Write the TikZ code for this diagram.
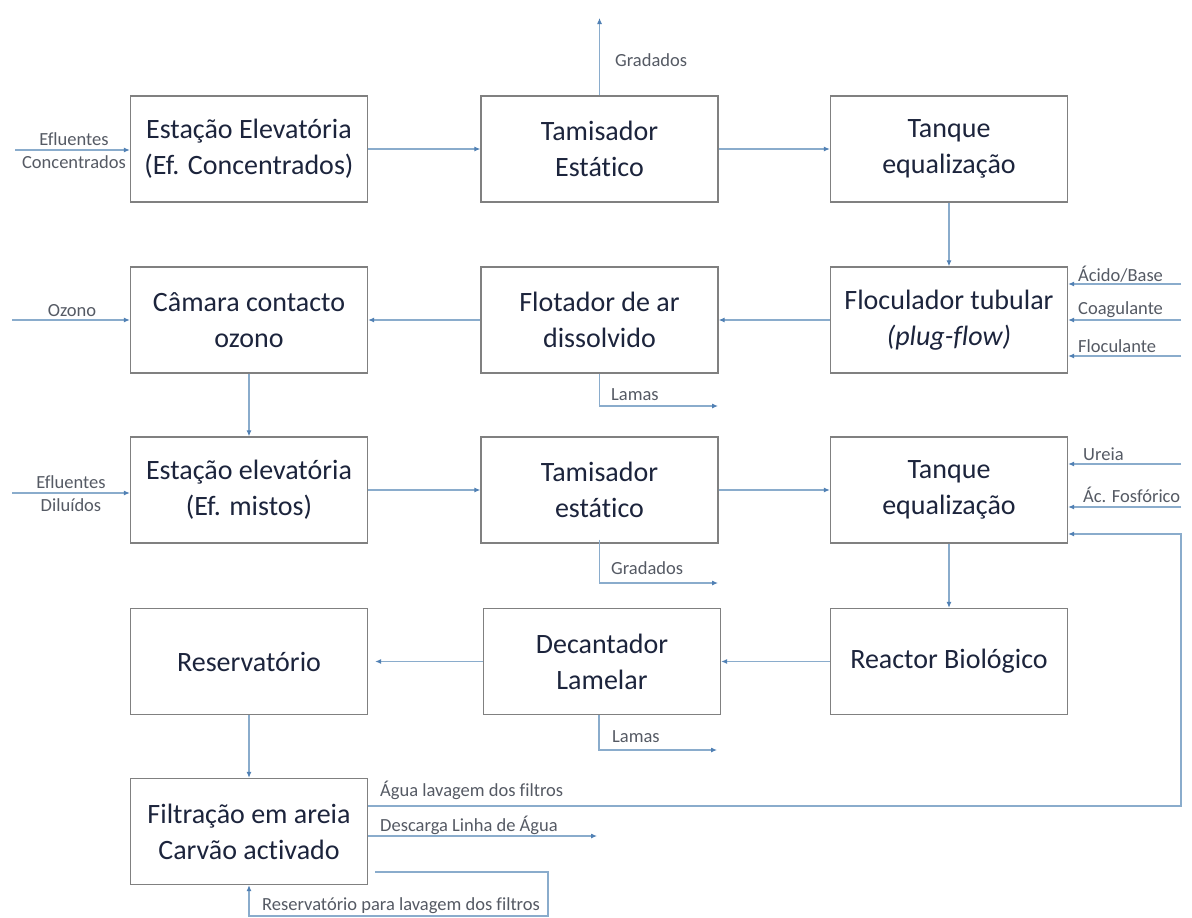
\documentclass[tikz,border=0pt]{standalone}
\usepackage{fontspec}
\setmainfont{Carlito}[RawFeature={-liga;-clig;-calt;-dlig}]
\usetikzlibrary{arrows.meta,calc}
\definecolor{linecol}{RGB}{138,172,204}
\definecolor{tipcol}{RGB}{80,128,180}
\definecolor{boxcol}{RGB}{128,128,128}
\definecolor{boxtxt}{RGB}{28,36,60}
\definecolor{labtxt}{RGB}{85,90,100}
\begin{document}
\begin{tikzpicture}[x=1pt,y=-1pt,
  box/.style={draw=boxcol,line width=1.3pt,minimum width=237pt,minimum height=106pt,
    align=center,text=boxtxt,font=\fontsize{28}{36}\selectfont,inner sep=0pt},
  arr/.style={draw=linecol,line width=1.1pt,-{Latex[length=6pt,width=5pt,color=tipcol]}},
  lab/.style={text=labtxt,font=\fontsize{18.5}{21}\selectfont,inner sep=0pt}]
\useasboundingbox (0,0) rectangle (1192,918);
\fill[white] (0,0) rectangle (1192,918);

% boxes
\node[box] (A) at (249,149) {Estação Elevatória\\(Ef. Concentrados)};
\node[box] (B) at (599.5,149) {Tamisador\\Estático};
\node[box] (C) at (949,149) {Tanque\\equalização};
\node[box] (D) at (249,320) {Câmara contacto\\ozono};
\node[box] (E) at (599.5,320) {Flotador de ar\\dissolvido};
\node[box] (F) at (949,320) {Floculador tubular\\\textit{(plug-flow)}};
\node[box] (G) at (249,490) {Estação elevatória\\(Ef. mistos)};
\node[box] (H) at (599.5,490) {Tamisador\\estático};
\node[box] (I) at (949,490) {Tanque\\equalização};
\node[box] (J) at (249,661.5) {Reservatório};
\node[box] (K) at (602,661.5) {Decantador\\Lamelar};
\node[box] (L) at (949,661.5) {Reactor Biológico};
\node[box] (M) at (249,831.5) {Filtração em areia\\Carvão activado};

% main flow
\draw[arr] (A.east) -- (B.west);
\draw[arr] (B.east) -- (C.west);
\draw[arr] (C.south) -- (F.north);
\draw[arr] (F.west) -- (E.east);
\draw[arr] (E.west) -- (D.east);
\draw[arr] (D.south) -- (G.north);
\draw[arr] (G.east) -- (H.west);
\draw[arr] (H.east) -- (I.west);
\draw[arr] (I.south) -- (L.north);
\draw[arr] (L.west) -- (K.east);
\draw[arr,shorten >=7pt] (K.west) -- (J.east);
\draw[arr] (J.south) -- (M.north);

% outputs / inputs
\coordinate (gradB) at (599.5,18);
\draw[arr] (B.north) -- (gradB);
\node[lab,anchor=west] (tgradB) at (615,60) {Gradados};

\coordinate (inA) at (15,150);
\draw[arr] (inA) -- (inA -| A.west);
\node[lab] (tefA) at (74,139) {Efluentes};
\node[lab] (tcoA) at (74,162) {Concentrados};

\coordinate (inD) at (12,320);
\draw[arr] (inD) -- (D.west);
\node[lab] (toz) at (72,311) {Ozono};

\coordinate (inG) at (12,493);
\draw[arr] (inG) -- (inG -| G.west);
\node[lab] (tefG) at (71,482) {Efluentes};
\node[lab] (tdiG) at (71,505) {Diluídos};

\coordinate (inF1) at (1181,284);
\coordinate (inF2) at (1181,320);
\coordinate (inF3) at (1181,356);
\draw[arr] (inF1) -- (inF1 -| F.east);
\draw[arr] (inF2) -- (inF2 -| F.east);
\draw[arr] (inF3) -- (inF3 -| F.east);
\node[lab,anchor=west] (tac) at (1078,274) {Ácido/Base};
\node[lab,anchor=west] (tcoag) at (1078,310) {Coagulante};
\node[lab,anchor=west] (tfloc) at (1078,346) {Floculante};

\coordinate (inI1) at (1181,464);
\coordinate (inI2) at (1181,507);
\draw[arr] (inI1) -- (inI1 -| I.east);
\draw[arr] (inI2) -- (inI2 -| I.east);
\node[lab,anchor=west] (tur) at (1083,454) {Ureia};
\node[lab,anchor=west] (tfos) at (1083,495) {Ác. Fosfórico};

\coordinate (lamE) at (718,406);
\draw[arr] (E.south) |- (lamE);
\node[lab,anchor=west] (tlamE) at (611,395) {Lamas};

\coordinate (gradH) at (718,583);
\draw[arr] ([yshift=4pt]H.south) |- (gradH);
\node[lab,anchor=west] (tgradH) at (611,568) {Gradados};

\coordinate (lamK) at (717,750);
\draw[arr] ([xshift=-3pt]K.south) |- (lamK);
\node[lab,anchor=west] (tlamK) at (612,737) {Lamas};

% filter outputs
\coordinate (fb1) at (1181,806);
\coordinate (fb2) at (1181,534);
\draw[arr] (M.east |- fb1) -- (fb1) -- (fb2) -- (I.east |- fb2);
\node[lab,anchor=west] (tagua) at (380,790) {Água lavagem dos filtros};

\coordinate (desc) at (597,836);
\draw[arr] (M.east |- desc) -- (desc);
\node[lab,anchor=west] (tdesc) at (380,825) {Descarga Linha de Água};

\coordinate (rl0) at (375,872);
\coordinate (rl1) at (548,872);
\coordinate (rl2) at (548,916);
\draw[arr] (rl0) -- (rl1) -- (rl2) -- (M.south |- rl2) -- (M.south);
\node[lab,anchor=west] (tres) at (262,906) {Reservatório para lavagem dos filtros};
\end{tikzpicture}
\end{document}
